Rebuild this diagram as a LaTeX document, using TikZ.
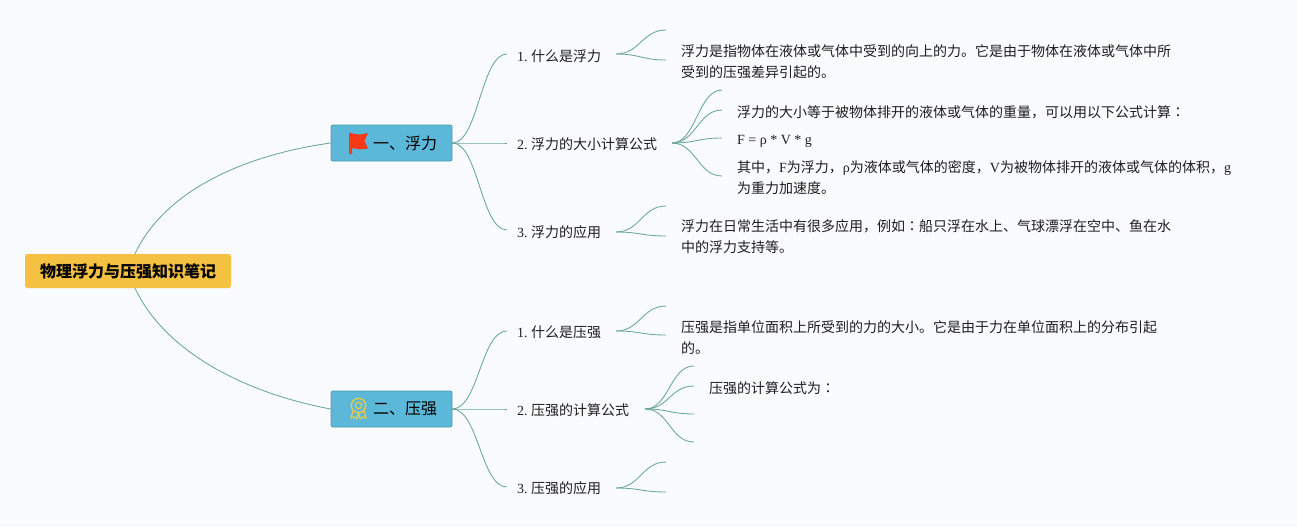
\documentclass[tikz,border=0pt]{standalone}
\usepackage{fontspec}
\setmainfont{Liberation Serif}
\newfontfamily\cjk{Noto Sans CJK SC}
\newfontfamily\cjkjp{Noto Sans CJK JP}
\newcommand{\zh}[1]{{\cjk #1}}
\newcommand{\cln}{{\cjkjp ：}}
\definecolor{pagebg}{HTML}{FAFBFF}
\definecolor{rootfill}{HTML}{F5C143}
\definecolor{mainfill}{HTML}{5BB8D8}
\definecolor{mainline}{HTML}{4E9AA8}
\definecolor{linkc}{HTML}{6AA598}
\definecolor{ink}{HTML}{1E1E1E}
\definecolor{medal}{HTML}{E6C84C}
\definecolor{flagred}{HTML}{F63A16}
\tikzset{
  rootbox/.style={draw=none,fill=rootfill,rounded corners=2.5pt,minimum width=206pt,minimum height=34pt,inner sep=0pt,font=\fontsize{16}{18}\selectfont\cjk\bfseries,text=black},
  mainbox/.style={draw=mainline,line width=.7pt,fill=mainfill,rounded corners=2pt,minimum width=121pt,minimum height=36pt,inner sep=0pt,font=\fontsize{16}{19}\selectfont,text=black},
  subbox/.style={inner xsep=0pt,inner ysep=0pt,font=\fontsize{14}{16}\selectfont,text=ink,text height=11pt,text depth=1pt,anchor=west},
  notebox/.style={inner sep=0pt,anchor=north west,align=left,font=\fontsize{14}{21}\selectfont,text=ink},
  link/.style={draw=linkc,line width=.85pt},
  curl/.style={link}
}
\newcommand{\sway}[3]{\draw[curl] (#1) .. controls +(#3,0) and +(-#3,0) .. (#2);}
\begin{document}
\begin{tikzpicture}[x=1pt,y=-1pt]
\useasboundingbox[fill=pagebg] (0,0) rectangle (1297,527);
% root and main branches
\node[rootbox] (root) at (128,271) {\raisebox{-1pt}{物理浮力与压强知识笔记}};
\node[mainbox] (m1) at (391.5,143) {\hspace{27pt}\raisebox{-1pt}{\zh{一、浮力}}};
\node[mainbox] (m2) at (391.5,409) {\hspace{27pt}\raisebox{-1pt}{\zh{二、压强}}};
% flag icon
\fill[flagred] (349,132.5) .. controls (355,135) and (362,135) .. (368,133) -- (364.5,141) -- (368,148.5) .. controls (362,150) and (357,149) .. (352,148) -- (352,154) -- (349,154) -- cycle;
% medal icon
\draw[draw=medal,line width=1.5pt] (358.5,405.5) circle (7.2);
\draw[draw=medal,line width=1.3pt] (358.5,405.5) circle (3.2);
\draw[draw=medal,line width=1.3pt,line join=round] (353,411) -- (350.8,418) -- (354.5,416.8) -- (356.8,419) -- (358.5,413) -- (360.2,419) -- (362.5,416.8) -- (366.2,418) -- (364,411);
% level 2
\node[subbox] (a1) at (517,56) {1.\hspace{3.5pt}\zh{什么是浮力}};
\node[subbox] (a2) at (517,144) {2.\hspace{3.5pt}\zh{浮力的大小计算公式}};
\node[subbox] (a3) at (517,232) {3.\hspace{3.5pt}\zh{浮力的应用}};
\node[subbox] (b1) at (517,332) {1.\hspace{3.5pt}\zh{什么是压强}};
\node[subbox] (b2) at (517,410) {2.\hspace{3.5pt}\zh{压强的计算公式}};
\node[subbox] (b3) at (517,488) {3.\hspace{3.5pt}\zh{压强的应用}};
% level 3 text
\node[notebox] (n11) at (681,44) {\zh{浮力是指物体在液体或气体中受到的向上的力。它是由于物体在液体或气体中所}\\\zh{受到的压强差异引起的。}};
\node[notebox] (n21) at (737,105) {\zh{浮力的大小等于被物体排开的液体或气体的重量，可以用以下公式计算}\cln};
\node[notebox] (n22) at (737,135) {F = ρ * V * g};
\node[notebox] (n23) at (737,160) {\zh{其中，}F\zh{为浮力，}ρ\zh{为液体或气体的密度，}V\zh{为被物体排开的液体或气体的体积，}g\\\zh{为重力加速度。}};
\node[notebox] (n31) at (681,219.5) {\zh{浮力在日常生活中有很多应用，例如}\cln\zh{船只浮在水上、气球漂浮在空中、鱼在水}\\\zh{中的浮力支持等。}};
\node[notebox] (n41) at (681,320) {\zh{压强是指单位面积上所受到的力的大小。它是由于力在单位面积上的分布引起}\\\zh{的。}};
\node[notebox] (n51) at (709,381) {\zh{压强的计算公式为}\cln};
% free ends
\foreach \n/\px/\py in {s1/507/54,s2/507/143,s3/507/230,t1/507/331,t2/507/409,t3/507/487,
  g1/616/54,g2/672/143,g3/616/232,h1/616/331,h2/645/409,h3/616/488,
  e1/666/30,e2/666/60,e3/722/90,e4/722/110,e5/722/138,e6/722/176,e7/666/206,e8/666/236,
  e9/666/306,e10/666/335,e11/694/366,e12/694/386,e13/694/414,e14/694/442,e15/666/462,e16/666/492}
  {\coordinate (\n) at (\px,\py);}
% root links
\draw[link] ([xshift=7pt]root.north) .. controls (165,190) and (245,155) .. (m1.west);
\draw[link] ([xshift=7pt]root.south) .. controls (165,352) and (245,393) .. (m2.west);
% main to subs
\foreach \e in {s1,s2,s3}{\sway{m1.east}{\e}{26}}
\foreach \e in {t1,t2,t3}{\sway{m2.east}{\e}{26}}
% subs to notes
\foreach \s/\e in {g1/e1,g1/e2,g2/e3,g2/e4,g2/e5,g2/e6,g3/e7,g3/e8,h1/e9,h1/e10,h2/e11,h2/e12,h2/e13,h2/e14,h3/e15,h3/e16}{\sway{\s}{\e}{24}}
\end{tikzpicture}
\end{document}
